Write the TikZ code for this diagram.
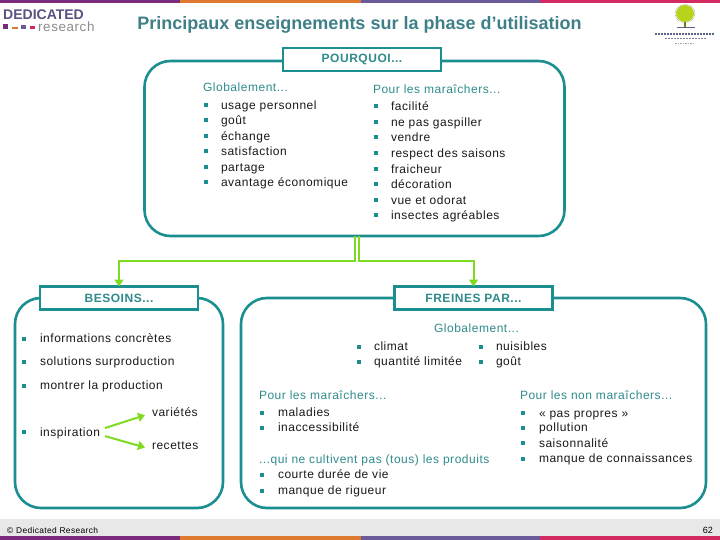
\documentclass[tikz,border=0pt]{standalone}
\usepackage{fontspec}
\setmainfont{Liberation Sans}
\newfontfamily\spaced[LetterSpace=4.4]{Liberation Sans}
\newfontfamily\spacedb[LetterSpace=3.6]{Liberation Sans}
\usetikzlibrary{arrows.meta}
\definecolor{tealline}{HTML}{1B8F8F}
\definecolor{tealtext}{HTML}{2F8A8C}
\definecolor{titlecol}{HTML}{3F7F88}
\definecolor{greenline}{HTML}{7FDB22}
\definecolor{barA}{HTML}{7B2A7C}
\definecolor{barB}{HTML}{DD7A2F}
\definecolor{barC}{HTML}{6B5B9A}
\definecolor{barD}{HTML}{D42A62}
\definecolor{footgray}{HTML}{E8E8E8}
\definecolor{logocol}{HTML}{5B5080}
\definecolor{treecol}{HTML}{B9D21C}
\definecolor{logomark}{HTML}{5A6488}
\tikzset{
  panel/.style={draw=tealline,line width=2.6pt,rounded corners=26pt,inner sep=0pt,outer sep=0pt},
  headbox/.style={draw=tealline,line width=2.6pt,fill=white,inner sep=0pt,outer sep=0pt,minimum width=158pt,minimum height=23pt,
    font=\spaced\bfseries\fontsize{12}{14}\selectfont,text=tealtext},
  txt/.style={anchor=base west,inner sep=0pt,outer sep=0pt,font=\spaced\fontsize{12}{14}\selectfont,text=black!90},
  hd/.style={txt,text=tealtext},
  sq/.style={fill=tealline,inner sep=0pt,outer sep=0pt,minimum size=4pt},
  grarrow/.style={draw=greenline,line width=2pt,-{Triangle[length=7pt,width=9pt]}}
}
% name, bullet x, text x, centre y, text
\newcommand{\bulrow}[5]{%
  \node[sq] (#1b) at (#2,#4) {};
  \node[txt] (#1) at (#3,#4+4.2) {#5};
}
\begin{document}
\begin{tikzpicture}[x=1pt,y=-1pt]
\useasboundingbox (0,0) rectangle (720,540);
% bars
\fill[barA] (0,0) rectangle (180,3);
\fill[barB] (180,0) rectangle (361,3);
\fill[barC] (361,0) rectangle (540,3);
\fill[barD] (540,0) rectangle (720,3);
\fill[footgray] (0,519) rectangle (720,536);
\fill[barA] (0,536) rectangle (180,540);
\fill[barB] (180,536) rectangle (361,540);
\fill[barC] (361,536) rectangle (540,540);
\fill[barD] (540,536) rectangle (720,540);
% left logo
\node[anchor=base west,inner sep=0pt,text=logocol,font=\bfseries\fontsize{14}{14}\selectfont] (logoa) at (3,20) {DEDICATED};
\node[anchor=base west,inner sep=0pt,text=black!45,font=\spaced\fontsize{13.4}{14}\selectfont] (logob) at (38,31.5) {research};
\fill[barA] (3,24) rectangle (8,29);
\fill[barB] (12,27) rectangle (18,29);
\fill[barC] (21,25) rectangle (26,29);
\fill[barD] (30,26) rectangle (35,29);
% right logo
\fill[treecol!60!black] (684.3,18) rectangle (686.3,27);
\fill[logomark] (677,27) rectangle (695,28);
\fill[treecol] (685,13.5) ellipse (9pt and 8.5pt);
\draw[black!60,densely dotted,line width=.5pt] (685,13.5) ellipse (10pt and 9pt);
\draw[logomark,line width=1.2pt,dash pattern=on 2pt off 1pt] (655,34) -- (714,34);
\draw[logomark!80,line width=1.1pt,dash pattern=on 2pt off 1pt] (665,38.8) -- (706,38.8);
\draw[black!35,line width=.9pt,dash pattern=on 1.5pt off 1pt] (675,43.5) -- (695,43.5);
% title
\node[anchor=base,inner sep=0pt,text=titlecol,font=\bfseries\fontsize{18}{20}\selectfont] (title) at (359.5,30) {Principaux enseignements sur la phase d’utilisation};
% panels
\node[panel,minimum width=420pt,minimum height=175pt] (ptop) at (354.5,148.5) {};
\node[panel,minimum width=208pt,minimum height=210pt] (pleft) at (119,403) {};
\node[panel,minimum width=465pt,minimum height=210pt] (pright) at (473.5,403) {};
% header boxes
\node[headbox] (pourquoi) at (362,59.5) {POURQUOI...};
\node[headbox] (besoins) at (119,298) {BESOINS...};
\node[headbox] (freines) at (473.5,298) {FREINES PAR...};
% connectors
\draw[grarrow] ([xshift=.5pt]ptop.south) -- ++(0,25) -| (besoins.north);
\draw[grarrow] ([xshift=4.5pt]ptop.south) -- ++(0,25) -| (freines.north);
% top panel
\node[hd] (h1) at (203,92) {Globalement...};
\bulrow{a1}{206}{221}{105}{usage personnel}
\bulrow{a2}{206}{221}{120.5}{goût}
\bulrow{a3}{206}{221}{136}{échange}
\bulrow{a4}{206}{221}{151.5}{satisfaction}
\bulrow{a5}{206}{221}{167}{partage}
\bulrow{a6}{206}{221}{182.5}{avantage économique}
\node[hd] (h2) at (373,93.5) {Pour les maraîchers...};
\bulrow{b1}{376}{391}{106.5}{facilité}
\bulrow{b2}{376}{391}{122.5}{ne pas gaspiller}
\bulrow{b3}{376}{391}{137.5}{vendre}
\bulrow{b4}{376}{391}{153.5}{respect des saisons}
\bulrow{b5}{376}{391}{169}{fraicheur}
\bulrow{b6}{376}{391}{184.5}{décoration}
\bulrow{b7}{376}{391}{200}{vue et odorat}
\bulrow{b8}{376}{391}{215.5}{insectes agréables}
% left panel
\bulrow{c1}{24}{40}{338.5}{informations concrètes}
\bulrow{c2}{24}{40}{361.5}{solutions surproduction}
\bulrow{c3}{24}{40}{385.5}{montrer la production}
\bulrow{c4}{24}{40}{432}{inspiration}
\node[txt] (var) at (152,416.5) {variétés};
\node[txt] (rec) at (152,449.8) {recettes};
\draw[grarrow] ([xshift=5pt,yshift=5pt]c4.east) -- ([xshift=-7pt,yshift=-3pt]var.west);
\draw[grarrow] ([xshift=5pt,yshift=-3pt]c4.east) -- ([xshift=-7pt,yshift=-1.5pt]rec.west);
% right panel
\node[hd] (h3) at (434,332.5) {Globalement...};
\bulrow{d1}{359}{374}{346.5}{climat}
\bulrow{d2}{359}{374}{361.5}{quantité limitée}
\bulrow{d3}{481}{496}{346.5}{nuisibles}
\bulrow{d4}{481}{496}{361.5}{goût}
\node[hd] (h4) at (259,399.5) {Pour les maraîchers...};
\bulrow{e1}{262}{278}{412.5}{maladies}
\bulrow{e2}{262}{278}{427.5}{inaccessibilité}
\node[hd] (h5) at (259,463) {...qui ne cultivent pas (tous) les produits};
\bulrow{e3}{262}{278}{474.5}{courte durée de vie}
\bulrow{e4}{262}{278}{490.5}{manque de rigueur}
\node[hd] (h6) at (520,399.5) {Pour les non maraîchers...};
\bulrow{f1}{523}{539}{413}{« pas propres »}
\bulrow{f2}{523}{539}{427.5}{pollution}
\bulrow{f3}{523}{539}{443}{saisonnalité}
\bulrow{f4}{523}{539}{458.5}{manque de connaissances}
% footer
\node[anchor=base west,inner sep=0pt,font=\spaced\fontsize{8.4}{10}\selectfont] (copy) at (7,533) {© Dedicated Research};
\node[anchor=base east,inner sep=0pt,font=\fontsize{9}{10}\selectfont] (page) at (713,533) {62};
\end{tikzpicture}
\end{document}
